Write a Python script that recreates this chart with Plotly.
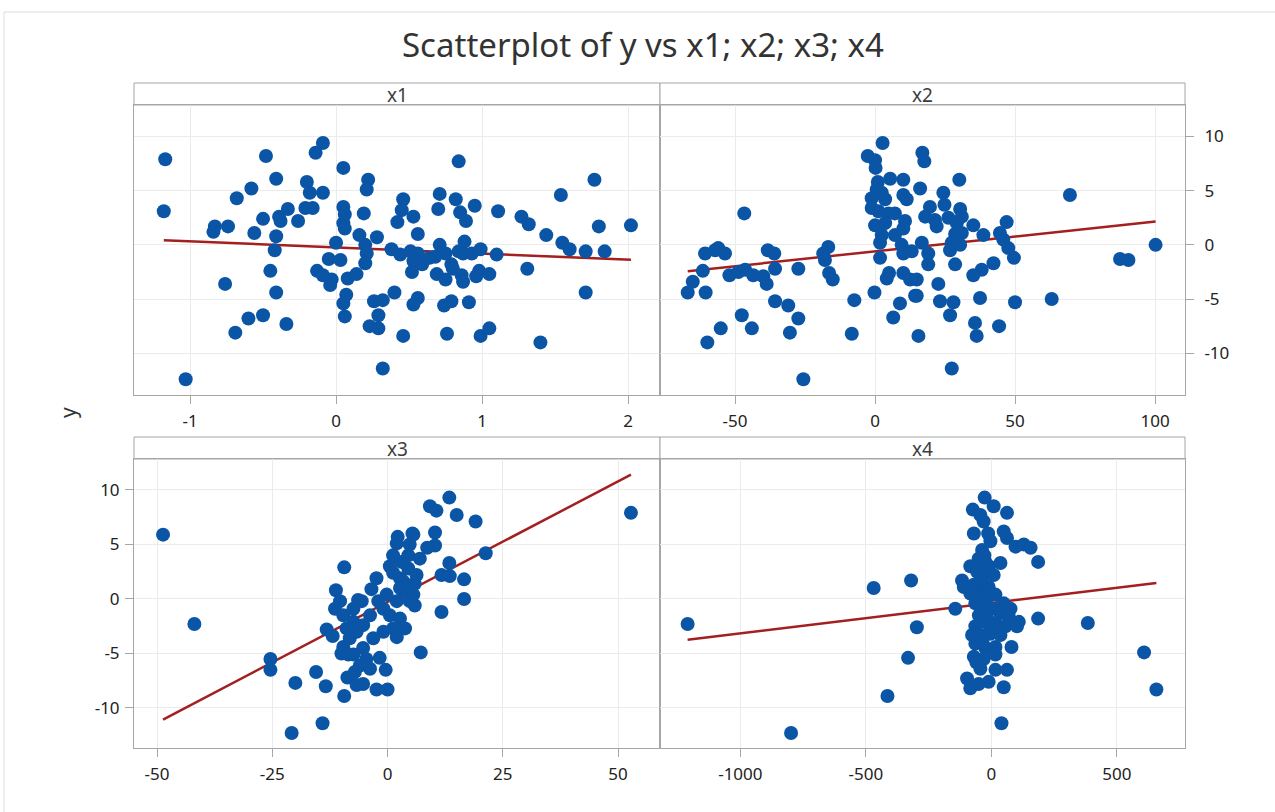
import plotly.graph_objects as go

# ---------------- data ----------------
x1_vals = [-1.17, -1.18, -1.03, -0.48, -0.41, -0.58, -0.68, -0.09, -0.14, 0.05, -0.20, -0.18, -0.09, 0.22, 0.21,
           -0.33, -0.21, -0.16, -0.50, -0.39, -0.38, -0.26, 0.05, 0.06, 0.05, 0.06, 0.19, -0.83, -0.74, -0.84,
           -0.56, -0.41, 0.16, 0.28, 0.00, -0.42, 0.20, 0.21, -0.05, 0.03, 0.20, 0.38, -0.45, -0.13, -0.09,
           -0.03, -0.04, 0.08, 0.14, -0.76, -0.41, 0.07, 0.05, 0.26, 0.32, 0.06, 0.29, 0.23, 0.29, -0.60,
           -0.50, -0.69, -0.34, 0.32,
           0.84, 1.77, 1.54, 0.71, 0.82, 0.46, 0.45, 0.70, 0.95, 0.85, 0.89, 1.11, 0.53, 0.42, 1.27, 1.32,
           1.80, 2.02, 0.56, 1.44, 1.55, 1.60, 1.71, 1.84, 0.44, 0.51, 0.56, 0.53, 0.59, 0.52, 0.64, 0.71,
           0.68, 0.75, 0.84, 0.88, 0.87, 0.93, 0.99, 1.10, 0.79, 0.80, 0.69, 0.75, 0.86, 0.87, 0.96, 0.98,
           1.05, 1.31, 1.71, 0.40, 0.56, 0.53, 0.74, 0.79, 0.91, 0.46, 0.76, 0.99, 1.05, 1.40]
y_vs_x1 = [7.9, 3.1, -12.4, 8.2, 6.1, 5.2, 4.3, 9.4, 8.5, 7.1, 5.8, 4.8, 4.8, 6.0, 5.1,
           3.3, 3.4, 3.4, 2.4, 2.6, 2.2, 2.2, 3.5, 2.8, 2.0, 1.5, 2.9, 1.7, 1.7, 1.2,
           1.1, 0.8, 0.9, 0.7, 0.2, -0.5, 0.0, -0.8, -1.3, -1.4, -1.7, -0.4, -2.4, -2.4, -2.8,
           -3.2, -3.7, -3.1, -2.7, -3.6, -4.4, -4.6, -5.4, -5.2, -5.1, -6.6, -6.5, -7.5, -7.7, -6.8,
           -6.5, -8.1, -7.3, -11.4,
           7.7, 6.0, 4.6, 4.7, 4.2, 4.2, 3.2, 3.3, 3.6, 3.0, 2.2, 3.1, 2.6, 2.1, 2.6, 1.9,
           1.7, 1.8, 1.0, 0.9, 0.2, -0.4, -0.6, -0.6, -0.9, -0.6, -0.8, -1.5, -1.8, -2.5, -1.2, 0.0,
           -1.1, -0.8, -0.6, 0.3, -0.8, -0.8, -0.4, -0.9, -1.8, -2.2, -2.7, -3.2, -2.8, -3.4, -2.9, -2.4,
           -2.7, -2.2, -4.4, -4.4, -4.9, -5.5, -5.6, -5.2, -5.3, -8.4, -8.2, -8.4, -7.7, -9.0]

x2_vals = [2.7, -2.6, 0.0, 0.2, 1.0, 5.4, 10.1, 0.6, -1.2, 2.4, 3.6, -1.2, 1.2, 4.8, 7.1, 10.1, 11.3,
           0.0, 3.6, 10.7, 10.1, 7.1, 2.4, 1.8, 9.5, 13.1, 10.1, 1.8, 5.0, 4.2, 10.1, 12.5, 14.3, 8.9,
           6.5, -0.2, -7.4, -8.3, -46.7, -60.7, -57.1, -53.6, -56.0, -61.5, -65.1, -66.9, -60.5, -52.0,
           -48.8, -46.4, -43.5, -39.9, -38.7, -38.3, -36.0, -35.7, -27.4, -35.7, -31.0, -27.4, -30.4,
           -47.6, -44.0, -55.1, -59.9, -25.6, -16.7, -18.5, -17.9, -16.4, -15.1,
           16.9, 17.6, 16.1, 30.1, 24.4, 24.8, 19.6, 17.9, 22.0, 21.4, 26.2, 30.4, 31.0, 29.2, 28.6,
           31.0, 35.1, 38.7, 47.0, 44.6, 45.8, 47.6, 49.6, 16.7, 19.0, 19.0, 27.4, 26.8, 30.4, 28.6,
           42.3, 38.1, 35.1, 22.6, 14.9, 14.9, 23.2, 28.0, 26.8, 37.5, 50.0, 63.1, 35.7, 36.3, 44.3,
           15.5, 27.4, 69.6, 87.5, 90.5, 100.2]
y_vs_x2 = [9.4, 8.2, 7.8, 7.1, 5.8, 6.1, 6.0, 5.1, 4.3, 4.8, 4.2, 3.4, 3.1, 2.9, 2.9, 4.6, 4.2,
           1.8, 2.0, 2.2, 1.5, 0.9, 0.9, 0.2, 0.0, -0.6, -0.8, -1.2, -2.6, -3.1, -2.6, -3.2, -4.7, -5.4,
           -6.7, -4.4, -5.1, -8.2, 2.9, -0.8, -0.5, -0.8, -0.3, -2.4, -3.4, -4.4, -4.4, -2.8,
           -2.5, -2.3, -2.8, -2.9, -3.6, -0.5, -0.8, -2.2, -2.2, -5.2, -5.6, -6.8, -8.1,
           -6.5, -7.7, -7.7, -9.0, -12.4, -0.2, -0.8, -1.4, -2.6, -3.2,
           8.5, 7.7, 5.2, 6.0, 4.8, 3.7, 3.5, 2.6, 1.7, 2.3, 2.5, 3.3, 2.6, 2.0, 1.0,
           1.1, 1.8, 0.9, 2.1, 1.1, 0.5, -0.3, -1.2, 0.2, -0.8, -1.8, 0.2, -0.5, 0.0, -1.8,
           -1.7, -2.3, -2.8, -3.6, -3.2, -4.7, -5.2, -5.3, -6.5, -4.9, -5.3, -5.0, -7.2, -8.4, -7.5,
           -8.4, -11.4, 4.6, -1.3, -1.4, 0.0]

x3_vals = [-48.7, -41.9, -25.4, -25.4, -20.0, -15.5, -13.4, -9.4, -14.1, -20.8, -9.4, -11.2, -13.2, -11.9,
           -11.4, -10.3, -9.6, -8.9, -9.6, -10.0, -8.5, -8.7, -7.1, -6.7, -7.4, -7.4, -6.4, -8.2,
           13.4, 9.2, 10.6, 15.0, 19.1, 52.8, 10.3, 5.4, 2.2, 2.0, 8.6, 10.3, 21.3, 13.4, 11.7, 13.5,
           16.6, 16.6, 11.7, 7.2, -2.4, -3.5, -5.6, 0.5, 3.0, 4.5, 6.3, 5.9, 4.1, 2.7, 1.2, 3.4, 5.6,
           5.9, 2.0, -0.2, -2.0, 0.5, 2.7, 3.8, 2.0, -0.9, -5.3, -6.7, -5.3, -7.4, -4.6, -1.7, -0.4,
           -5.3, -2.4, 0.0, 4.5, 7.0, 3.4, -0.9, 1.2, 4.8, 5.6, 2.7, 4.8, 1.2, -3.8, -3.1, -6.0, -3.8]
y_vs_x3 = [5.9, -2.3, -5.5, -6.5, -7.7, -6.7, -8.0, -8.9, -11.4, -12.3, 2.9, 0.8, -2.8, -3.4,
           -0.9, -0.2, -1.5, -2.7, -4.4, -5.0, -5.1, -7.2, -6.7, -7.9, -0.9, -2.1, -0.1, -3.6,
           9.3, 8.5, 8.1, 7.7, 7.1, 7.9, 6.1, 6.0, 5.7, 5.1, 4.7, 4.9, 4.2, 3.3, 2.2, 2.1,
           1.8, 0.0, -1.2, -4.9, 1.9, 0.9, -0.2, 3.0, 3.4, 2.8, 2.2, 1.4, 1.3, 1.9, 2.4, 0.7, 0.4,
           -0.6, -0.2, 0.4, -0.2, -1.5, -1.8, -2.7, -3.5, -3.0, -2.4, -3.0, -4.5, -5.1, -5.5, -5.4, -6.5,
           -7.8, -8.3, -8.3, 4.0, 3.7, 1.6, -0.9, 4.0, 5.0, 5.9, 1.0, -0.2, -2.7, -1.5, -3.6, -6.1, -6.4]

x4_vals = [-1210, -798, -469, -320, -297, -332, -414,
           -27, 9, 62, -74, -44, -31, -70, -13, -4, 49, 62, 96, 129, 156, 186, -37, -51, -24, 36,
           -84, -57, -24, 9, -117, -110, -70, -37, -11, -84, -44, -17, 16, -64, -24, -144, 3, 49,
           76, 36, 69, 109, 102, 56, -64, -37, -17, 16, -77, -44, -4, 36, -64, -24, 16, 80, -70,
           -31, 16, -44, 16, 62, -97, -84, -51, -11, 49, 40, 186, 384, 608, 657,
           -30, -20, -40, -10, -28, -5, -50, -15, -35, -60]
y_vs_x4 = [-2.3, -12.3, 1.0, 1.7, -2.6, -5.4, -8.9,
           9.3, 8.5, 7.9, 8.2, 7.7, 7.1, 6.0, 6.0, 5.3, 6.2, 5.6, 4.8, 5.0, 4.7, 3.4, 4.5, 3.7, 3.4, 3.3,
           3.0, 2.5, 2.4, 2.2, 1.7, 1.1, 1.3, 1.6, 1.1, 0.5, 0.4, 0.1, 0.4, -0.4, -0.6, -0.9, -0.9, -0.4,
           -0.9, -1.3, -1.6, -2.1, -2.5, -2.5, -2.5, -2.1, -1.8, -2.2, -3.3, -3.3, -3.2, -3.3, -4.1, -4.5,
           -4.4, -4.4, -5.3, -5.5, -5.1, -6.4, -6.5, -6.5, -7.3, -8.2, -7.8, -7.6, -8.1, -11.4, -1.8, -2.2,
           -4.9, -8.3,
           1.0, -1.2, -1.0, 3.0, 4.0, -2.6, -1.5, 0.8, -4.0, -5.8]

# fitted regression lines (intercept, slope)
fit_x1 = [-0.24, -0.566]
fit_x2 = [-0.60, 0.0274]
fit_x3 = [-0.28, 0.2213]
fit_x4 = [-0.36, 0.00279]

panel_names = ["x1", "x2", "x3", "x4"]
x_ticks = [[-1, 0, 1, 2], [-50, 0, 50, 100], [-50, -25, 0, 25, 50], [-1000, -500, 0, 500]]
y_ticks = [-10, -5, 0, 5, 10]

# ---------------- styling / layout ----------------
W, H = 1275, 812
FONT = "Noto Sans"
DOT = "#0a55a5"
LINE = "#a31f20"
GRID = "#ebebeb"
AXLINE = "#a6a6a6"
TXT = "#222222"

def px(x):
    return x / W

def py(y):
    return 1 - y / H

col_dom = [[px(134), px(660)], [px(660), px(1185)]]
row_dom = [[py(395), py(105)], [py(748), py(459)]]
x_ranges = [[-1.384, 2.219], [-76.8, 110.7], [-55.0, 59.1], [-1320, 771]]
y_ranges = [[-13.85, 12.9], [-13.85, 12.9], [-13.67, 12.84], [-13.67, 12.84]]

xs = [x1_vals, x2_vals, x3_vals, x4_vals]
ys = [y_vs_x1, y_vs_x2, y_vs_x3, y_vs_x4]
fits = [fit_x1, fit_x2, fit_x3, fit_x4]

def labels(vals):
    return [str(v) for v in vals]   # plain hyphen minus like the reference

fig = go.Figure()
layout = {}
for i in range(4):
    r, c = divmod(i, 2)
    sfx = "" if i == 0 else str(i + 1)
    xa, ya = "x" + sfx, "y" + sfx
    xv, yv = xs[i], ys[i]
    b0, b1 = fits[i]
    lx = [min(xv), max(xv)]
    ly = [b0 + b1 * v for v in lx]
    fig.add_trace(go.Scatter(x=lx, y=ly, mode="lines", line=dict(color=LINE, width=2.5),
                             xaxis=xa, yaxis=ya, showlegend=False, hoverinfo="skip"))
    fig.add_trace(go.Scatter(x=xv, y=yv, mode="markers",
                             marker=dict(color=DOT, size=14, line=dict(width=0)),
                             xaxis=xa, yaxis=ya, showlegend=False))
    layout["xaxis" + sfx] = dict(domain=col_dom[c], anchor=ya, range=x_ranges[i],
                                 tickvals=x_ticks[i], ticktext=labels(x_ticks[i]),
                                 showgrid=True, gridcolor=GRID, gridwidth=1,
                                 zeroline=False, showline=True, linecolor=AXLINE, linewidth=1,
                                 mirror=True, ticks="outside", ticklen=8, tickcolor=AXLINE,
                                 tickfont=dict(family=FONT, size=17, color=TXT),
                                 ticklabelstandoff=3)
    side = "left"
    show_lab = False
    if i == 1:
        side, show_lab = "right", True
    if i == 2:
        side, show_lab = "left", True
    layout["yaxis" + sfx] = dict(domain=row_dom[r], anchor=xa, range=y_ranges[i],
                                 tickvals=y_ticks, ticktext=labels(y_ticks),
                                 side=side, showticklabels=show_lab,
                                 showgrid=True, gridcolor=GRID, gridwidth=1, zeroline=False,
                                 showline=True, linecolor=AXLINE, linewidth=1, mirror=True,
                                 ticks="outside" if show_lab else "", ticklen=8, tickcolor=AXLINE,
                                 tickfont=dict(family=FONT, size=17, color=TXT),
                                 ticklabelstandoff=7 if i == 1 else 2)

shapes = []
annotations = []
# strip headers
strip_rows = [(83, 105), (437, 459)]
for i in range(4):
    r, c = divmod(i, 2)
    y0, y1 = strip_rows[r]
    x0, x1 = (134, 660) if c == 0 else (660, 1185)
    shapes.append(dict(type="rect", xref="paper", yref="paper", x0=px(x0), x1=px(x1),
                       y0=py(y1), y1=py(y0), line=dict(color=AXLINE, width=1), fillcolor="white",
                       layer="below"))
    annotations.append(dict(text=panel_names[i], xref="paper", yref="paper",
                            x=px((x0 + x1) / 2), y=py((y0 + y1) / 2 + 1), showarrow=False,
                            xanchor="center", yanchor="middle",
                            font=dict(family=FONT, size=19, color="#3c3c3c")))

# outer frame of the screenshot
shapes.append(dict(type="line", xref="paper", yref="paper", x0=px(4), x1=px(4), y0=0, y1=py(12),
                   line=dict(color="#dcdcdc", width=1)))
shapes.append(dict(type="line", xref="paper", yref="paper", x0=px(4), x1=1, y0=py(12), y1=py(12),
                   line=dict(color="#dcdcdc", width=1)))

annotations.append(dict(text="Scatterplot of y vs x1; x2; x3; x4", xref="paper", yref="paper",
                        x=px(643), y=py(45), showarrow=False, xanchor="center", yanchor="middle",
                        font=dict(family=FONT, size=33, color="#333333")))
annotations.append(dict(text="y", xref="paper", yref="paper", x=px(68), y=py(413), showarrow=False,
                        textangle=-90, xanchor="center", yanchor="middle",
                        font=dict(family=FONT, size=21, color="#333333")))

fig.update_layout(width=W, height=H, margin=dict(l=0, r=0, t=0, b=0, autoexpand=False),
                  paper_bgcolor="white", plot_bgcolor="white", shapes=shapes,
                  annotations=annotations, hovermode=False, **layout)

fig.write_html("out.html", config={"displayModeBar": False, "staticPlot": True},
               post_script="document.body.style.margin='0px';document.body.style.padding='0px';")
